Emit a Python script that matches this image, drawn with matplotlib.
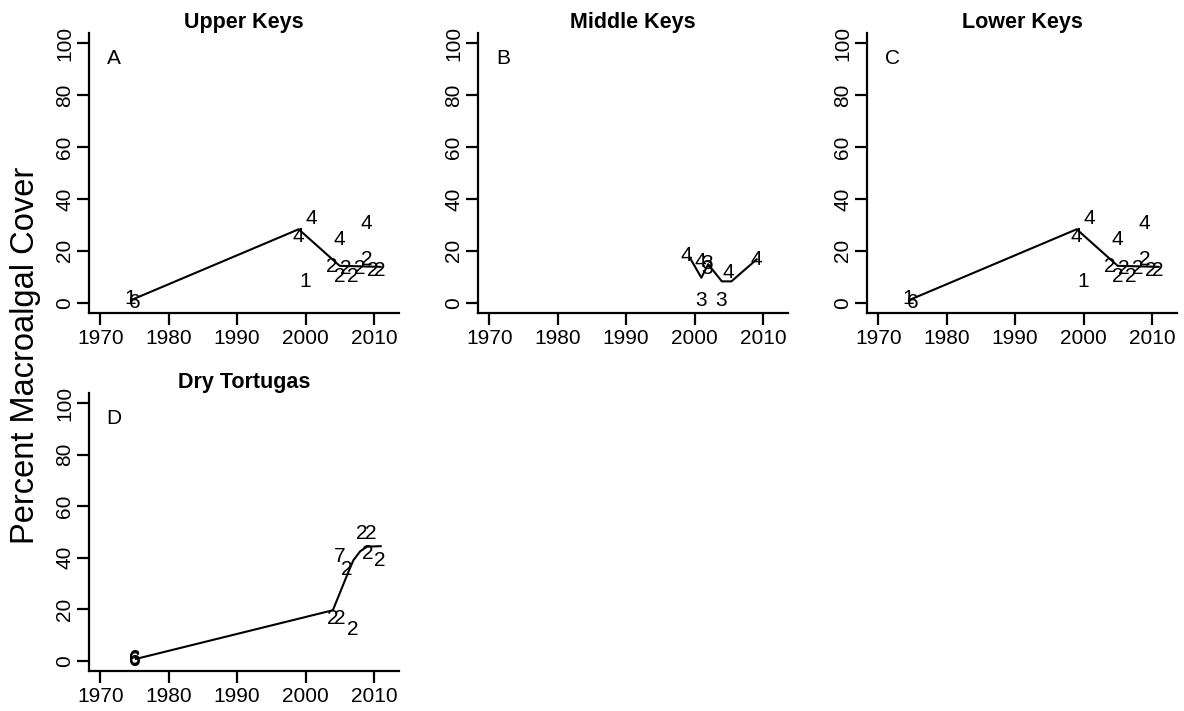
#packages
import matplotlib
matplotlib.use('Agg')
import matplotlib.pyplot as plt

plt.rcParams['font.family'] = ['Liberation Sans', 'DejaVu Sans']

# data: site labels (study number) placed at (year, cover)
upper_lab_years = [1974.3, 1975, 1999, 2000.8, 2000, 2004.9, 2008.9,
                   2003.9, 2005, 2005.9, 2006.9, 2008, 2009, 2009.8, 2010.9]
upper_lab_vals = [1.5, 0, 25.5, 32.6, 8.2, 24.2, 30.4,
                  14, 10.1, 13, 9.9, 13.3, 16.5, 12.4, 12.4]
upper_labels = ['1', '6', '4', '4', '1', '4', '4',
                '2', '2', '2', '2', '2', '2', '2', '2']
upper_line_years = [1974.5, 1999, 2005, 2011]
upper_line_vals = [1, 28.3, 14.2, 13.8]

middle_lab_years = [1998.8, 2000.8, 2001.9, 2001.9, 2004.9, 2009.1, 2001, 2003.9]
middle_lab_vals = [18.2, 15.8, 15, 13, 11.5, 16.5, 1, 1]
middle_labels = ['4', '4', '3', '3', '4', '4', '3', '3']
middle_line_years = [1999.3, 2001, 2002, 2004, 2005.4, 2009.1]
middle_line_vals = [17.4, 9.6, 14.8, 8.2, 8.2, 16.7]

lower_lab_years = [1974.3, 1975, 1999, 2000.8, 2000, 2004.9, 2008.9,
                   2003.9, 2005, 2005.9, 2006.9, 2008, 2009, 2009.8, 2010.9]
lower_lab_vals = [1.5, 0, 25.5, 32.6, 8.2, 24.2, 30.4,
                  14, 10.1, 13, 9.9, 13.3, 16.5, 12.4, 12.4]
lower_labels = ['1', '6', '4', '4', '1', '4', '4',
                '2', '2', '2', '2', '2', '2', '2', '2']
lower_line_years = [1974.5, 1999, 2005, 2011]
lower_line_vals = [1, 28.3, 14.2, 13.8]

tort_lab_years = [1975, 1975, 1975, 2004, 2005, 2006.9, 2005, 2006.1,
                  2008.2, 2009.6, 2009.1, 2010.8]
tort_lab_vals = [0, 0.5, 1, 16.5, 16.5, 12, 40.4, 35.3,
                 49.5, 49.5, 41.7, 39]
tort_labels = ['6', '6', '6', '2', '2', '2', '7', '2',
               '2', '2', '2', '2']
tort_line_years = [1975.2, 2004, 2006.2, 2007, 2008, 2009, 2011]
tort_line_vals = [0.7, 19.6, 34, 39, 42.5, 44.3, 44.5]

x_ticks = [1970, 1980, 1990, 2000, 2010]
y_ticks = [0, 20, 40, 60, 80, 100]

W, H = 1184, 711


def panel(rect_px, title, letter, lab_years, lab_vals, labels, line_years, line_vals):
    # rect_px = left, top, right, bottom in pixels
    l, t, r, b = rect_px
    ax = fig.add_axes([l / W, 1 - b / H, (r - l) / W, (b - t) / H])
    ax.set_xlim(1968.32, 2013.68)
    ax.set_ylim(-4, 104)
    for s in ['top', 'right']:
        ax.spines[s].set_visible(False)
    for s in ['left', 'bottom']:
        ax.spines[s].set_linewidth(1.6)
    ax.set_xticks(x_ticks)
    ax.set_yticks(y_ticks)
    ax.set_yticklabels([str(v) for v in y_ticks], rotation=90, va='center')
    ax.tick_params(direction='out', length=8.5, width=1.6, labelsize=15)
    ax.tick_params(axis='x', pad=3)
    ax.tick_params(axis='y', pad=2)

    ax.plot(line_years, line_vals, color='black', lw=1.5)
    for yr, v, lab in zip(lab_years, lab_vals, labels):
        ax.text(yr, v, lab, fontsize=15, ha='center', va='center')

    ax.text(1972, 94, letter, fontsize=15, ha='center', va='center')
    ax.set_title(title, fontsize=15.5, fontweight='bold', pad=3)
    return ax


fig = plt.figure(figsize=(11.84, 7.11), dpi=100)

panel((89, 33, 399, 313), 'Upper Keys', 'A',
      upper_lab_years, upper_lab_vals, upper_labels, upper_line_years, upper_line_vals)
panel((478, 33, 788, 313), 'Middle Keys', 'B',
      middle_lab_years, middle_lab_vals, middle_labels, middle_line_years, middle_line_vals)
panel((867, 33, 1177, 313), 'Lower Keys', 'C',
      lower_lab_years, lower_lab_vals, lower_labels, lower_line_years, lower_line_vals)
panel((89, 393, 399, 671), 'Dry Tortugas', 'D',
      tort_lab_years, tort_lab_vals, tort_labels, tort_line_years, tort_line_vals)

fig.text(26 / W, 1 - 355 / H, 'Percent Macroalgal Cover', fontsize=23.5,
         rotation=90, ha='center', va='center')

fig.savefig('out.png', dpi=100)
